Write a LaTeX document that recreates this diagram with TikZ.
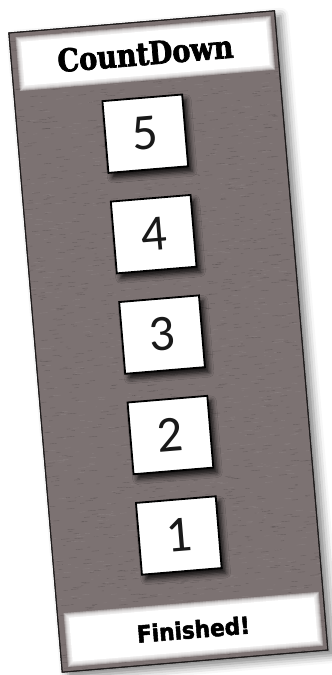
\documentclass[tikz,border=0pt]{standalone}
\usepackage{fontspec}
\usetikzlibrary{shadows.blur}
\newfontfamily\titlefont{DejaVu Serif}[FakeStretch=0.86, BoldFeatures={FakeBold=2.2}]
\newfontfamily\endfont{DejaVu Sans}[FakeStretch=0.92, BoldFeatures={FakeBold=2.2}]
\newfontfamily\digitfont{Carlito}
\definecolor{board}{RGB}{124,114,114}
\definecolor{boardline}{RGB}{30,27,27}

\begin{document}
\begin{tikzpicture}[x=1pt, y=1pt,
    panel/.style={rectangle, fill=board, draw=boardline, line width=1pt, inner sep=0pt,
      minimum width=266.6pt, minimum height=641.5pt,
      blur shadow={shadow xshift=6pt, shadow yshift=-5pt, shadow blur radius=8pt, shadow opacity=50}},
    glow/.style={rectangle, fill=white, opacity=0.35, inner sep=0pt},
    bar/.style={rectangle, fill=white, inner sep=0pt, minimum width=246pt, minimum height=44pt},
    numbox/.style={rectangle, fill=white, draw=black, line width=1.8pt, inner sep=0pt,
      minimum width=80pt, minimum height=72pt, text=black!90,
      font=\digitfont\fontsize{51}{51}\selectfont,
      blur shadow={shadow xshift=4pt, shadow yshift=-5pt, shadow blur radius=5pt, shadow opacity=85}},
    streak/.style={line width=0.4pt, black, opacity=0.16}]
  \useasboundingbox (0,0) rectangle (332,675);
  \begin{scope}[shift={(168.35,333.5)}, rotate=4.77, transform shape]
    % Board
    \node[panel] (board) at (0,0) {};
    \begin{scope}
      \clip (-132.5,-320.2) rectangle (132.5,320.2);
      \pgfmathsetseed{11}
      \foreach \s in {1,...,1500}
        \draw[streak] (-136+266*rnd, -321+642*rnd) -- ++(2+7*rnd, 0);
      \foreach \s in {1,...,1000}
        \draw[streak, white, opacity=0.09] (-136+266*rnd, -321+642*rnd) -- ++(2+7*rnd, 0);
    \end{scope}
    \node[draw=boardline, line width=1pt, minimum width=266.6pt, minimum height=641.5pt] at (0,0) {};

    % Title
    \foreach \g in {0,...,4}
      \node[glow, minimum width={248pt+2pt*\g}, minimum height={46pt+2pt*\g}] at (1,289) {};
    \node[bar, font=\titlefont\bfseries\fontsize{31.5}{32}\selectfont] (title) at (1,289) {CountDown};

    % Count
    \node[numbox] (n5) at (-5.7,209) {5};
    \node[numbox] (n4) at (-5.7,108.2) {4};
    \node[numbox] (n3) at (-5.7,7.4) {3};
    \node[numbox] (n2) at (-5.7,-93.4) {2};
    \node[numbox] (n1) at (-5.7,-194.2) {1};

    % Finish
    \foreach \g in {0,...,4}
      \node[glow, minimum width={248pt+2pt*\g}, minimum height={46pt+2pt*\g}] at (1,-289) {};
    \node[bar, font=\endfont\bfseries\fontsize{23.5}{24}\selectfont] (done) at (1,-289) {Finished!};
  \end{scope}
\end{tikzpicture}
\end{document}
